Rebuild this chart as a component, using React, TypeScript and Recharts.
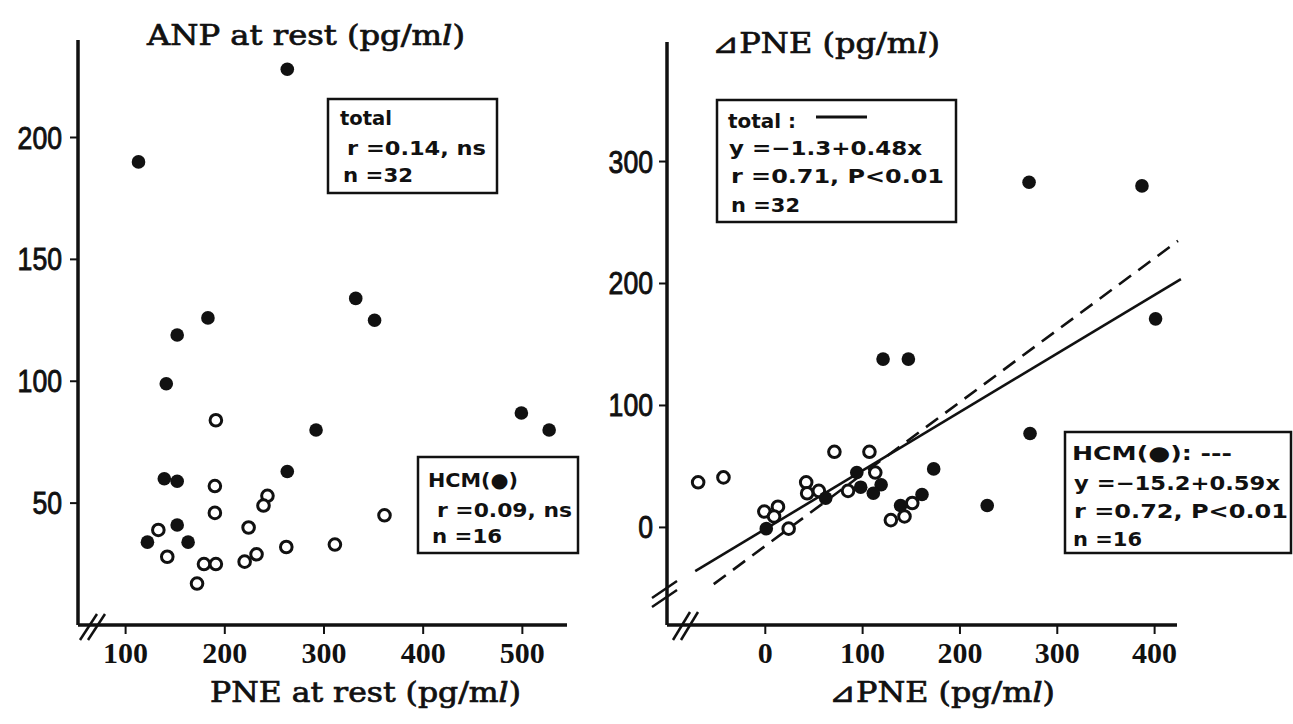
import React from 'react'
import { ScatterChart, Scatter, XAxis, YAxis, ReferenceLine } from 'recharts'

// left panel: PNE at rest (x) vs ANP at rest (y)
const restHcmX = [113, 263, 141, 152, 183, 332, 351, 292, 499, 527, 263, 139, 152, 152, 163, 122]
const restHcmY = [190, 228, 99, 119, 126, 134, 125, 80, 87, 80, 63, 60, 59, 41, 34, 34]
const restOtherX = [191, 190, 190, 133, 142, 179, 191, 172, 224, 220, 232, 243, 239, 262, 311, 361]
const restOtherY = [84, 57, 46, 39, 28, 25, 25, 17, 40, 26, 29, 53, 49, 32, 33, 45]

// right panel: ΔPNE (x) vs ΔPNE (y)
const deltaHcmX = [271, 387, 401, 121, 147, 272, 173, 228, 161, 139, 94, 98, 119, 111, 62, 1]
const deltaHcmY = [283, 280, 171, 138, 138, 77, 48, 18, 27, 18, 45, 33, 35, 28, 24, -1]
const deltaOtherX = [-69, -43, -1, 13, 9, 24, 42, 43, 55, 71, 85, 107, 113, 129, 143, 151]
const deltaOtherY = [37, 41, 13, 17, 9, -1, 37, 28, 30, 62, 30, 62, 45, 6, 9, 20]

// regression lines as printed in the figure
const totalFit = { a: -1.3, b: 0.48, from: -72, to: 427 }
const hcmFit = { a: -15.2, b: 0.59, from: -53, to: 424 }

const restXTicks = [100, 200, 300, 400, 500]
const restYTicks = [50, 100, 150, 200]
const deltaXTicks = [0, 100, 200, 300, 400]
const deltaYTicks = [0, 100, 200, 300]

const zip = (xs: number[], ys: number[]) => xs.map((x, i) => ({ x, y: ys[i] }))
const fitSegment = (f: typeof totalFit) => [
  { x: f.from, y: f.a + f.b * f.from },
  { x: f.to, y: f.a + f.b * f.to },
]

const INK = '#111'

const FilledDot = (p: any) => <circle cx={p.cx} cy={p.cy} r={6.8} fill={INK} />
const OpenDot = (p: any) => <circle cx={p.cx} cy={p.cy} r={5.8} fill="#fff" stroke={INK} strokeWidth={3} />

const XTick = (p: any) => {
  const s = String(p.payload.value)
  return (
    <text x={p.x} y={p.y + 21} textAnchor="middle" fontFamily="'Liberation Serif', serif" fontWeight="bold" fontSize={29}
      fill={INK} textLength={15 * s.length} lengthAdjust="spacingAndGlyphs">{s}</text>
  )
}
const YTick = (p: any) => {
  const s = String(p.payload.value)
  return (
    <text x={p.x} y={p.y + 11} textAnchor="end" fontFamily="'Liberation Sans', sans-serif" fontSize={31}
      fill={INK} stroke={INK} strokeWidth={0.9} textLength={14.8 * s.length} lengthAdjust="spacingAndGlyphs">{s}</text>
  )
}

const axisLine = { stroke: INK, strokeWidth: 3.5 }
const tickLine = { stroke: INK, strokeWidth: 2 }

const serif = "'DejaVu Serif', serif"
const boxFont = "'DejaVu Sans Condensed', 'DejaVu Sans', sans-serif"

const Unit = () => (
  <>
    {' (pg/m'}<tspan fontStyle="italic">l</tspan>{')'}
  </>
)

const Title = ({ x, y, w, children }: { x: number; y: number; w: number; children: React.ReactNode }) => (
  <text x={x} y={y} fontFamily={serif} fontSize={27} fill={INK} stroke={INK} strokeWidth={0.7}
    textLength={w} lengthAdjust="spacingAndGlyphs">{children}</text>
)

const Line = ({ x, y, w, s }: { x: number; y: number; w: number; s: string }) => (
  <text x={x} y={y} fontFamily={boxFont} fontWeight="bold" fontSize={20} fill={INK}
    textLength={w} lengthAdjust="spacingAndGlyphs">{s}</text>
)

export default function App() {
  return (
    <div style={{ position: 'absolute', left: 0, top: 0, width: 1293, height: 724, background: '#fff' }}>
      <div style={{ position: 'absolute', left: 0, top: 0 }}>
        <ScatterChart width={600} height={724} margin={{ top: 40, right: 33, bottom: 59, left: 28 }}>
          <XAxis type="number" dataKey="x" domain={[52, 545]} ticks={restXTicks} allowDataOverflow
            height={40} axisLine={axisLine} tickLine={tickLine} tickSize={9} tickMargin={8} tick={<XTick />} />
          <YAxis type="number" dataKey="y" domain={[0, 240]} ticks={restYTicks} allowDataOverflow
            width={50} axisLine={axisLine} tickLine={tickLine} tickSize={8} tickMargin={8} tick={<YTick />} />
          <Scatter data={zip(restOtherX, restOtherY)} shape={OpenDot} isAnimationActive={false} />
          <Scatter data={zip(restHcmX, restHcmY)} shape={FilledDot} isAnimationActive={false} />
        </ScatterChart>
      </div>
      <div style={{ position: 'absolute', left: 600, top: 0 }}>
        <ScatterChart width={597} height={724} margin={{ top: 42, right: 20, bottom: 59, left: 17 }}>
          <XAxis type="number" dataKey="x" domain={[-101, 423]} ticks={deltaXTicks} allowDataOverflow
            height={40} axisLine={axisLine} tickLine={tickLine} tickSize={9} tickMargin={8} tick={<XTick />} />
          <YAxis type="number" dataKey="y" domain={[-80, 398]} ticks={deltaYTicks} allowDataOverflow
            width={50} axisLine={axisLine} tickLine={tickLine} tickSize={8} tickMargin={6} tick={<YTick />} />
          <ReferenceLine segment={fitSegment(hcmFit)} stroke={INK} strokeWidth={2.6} strokeDasharray="15 9" ifOverflow="visible" />
          <ReferenceLine segment={fitSegment(totalFit)} stroke={INK} strokeWidth={2.6} ifOverflow="visible" />
          <Scatter data={zip(deltaOtherX, deltaOtherY)} shape={OpenDot} isAnimationActive={false} />
          <Scatter data={zip(deltaHcmX, deltaHcmY)} shape={FilledDot} isAnimationActive={false} />
        </ScatterChart>
      </div>

      <svg width={1293} height={724} style={{ position: 'absolute', left: 0, top: 0, pointerEvents: 'none' }}>
        {/* titles */}
        <Title x={147} y={45} w={318}>ANP at rest<Unit /></Title>
        <Title x={712} y={53} w={228}>⊿PNE<Unit /></Title>
        <Title x={210} y={702} w={311}>PNE at rest<Unit /></Title>
        <Title x={829} y={702} w={226}>⊿PNE<Unit /></Title>

        {/* axis breaks */}
        <g stroke={INK} strokeWidth={2.5}>
          <line x1={80} y1={640} x2={97} y2={614} />
          <line x1={88} y1={640} x2={105} y2={614} />
          <line x1={652} y1={607} x2={677} y2={590} />
          <line x1={652} y1={598} x2={677} y2={581} />
          <line x1={673} y1={640} x2={690} y2={612} />
          <line x1={681} y1={640} x2={698} y2={612} />
        </g>

        {/* left boxes */}
        <rect x={328} y={99} width={169} height={94} fill="#fff" stroke={INK} strokeWidth={2.5} />
        <Line x={340} y={125} w={52} s="total" />
        <Line x={347} y={155} w={139} s="r =0.14, ns" />
        <Line x={343} y={182} w={70} s="n =32" />

        <rect x={418} y={457} width={160} height={96} fill="#fff" stroke={INK} strokeWidth={2.5} />
        <Line x={428} y={487} w={90} s="HCM(●)" />
        <Line x={437} y={517} w={135} s="r =0.09, ns" />
        <Line x={432} y={543} w={70} s="n =16" />

        {/* right boxes */}
        <rect x={717} y={100} width={239} height={122} fill="#fff" stroke={INK} strokeWidth={2.5} />
        <Line x={728} y={128} w={68} s="total :" />
        <line x1={816} y1={117} x2={867} y2={117} stroke={INK} strokeWidth={3} />
        <Line x={729} y={155} w={193} s="y =−1.3+0.48x" />
        <Line x={731} y={183} w={213} s="r =0.71,  P<0.01" />
        <Line x={731} y={212} w={69} s="n =32" />

        <rect x={1065} y={432} width={226} height={121} fill="#fff" stroke={INK} strokeWidth={2.5} />
        <Line x={1072} y={460} w={160} s="HCM(●): ---" />
        <Line x={1074} y={490} w={206} s="y =−15.2+0.59x" />
        <Line x={1074} y={518} w={214} s="r =0.72,  P<0.01" />
        <Line x={1073} y={546} w={69} s="n =16" />
      </svg>
    </div>
  )
}
